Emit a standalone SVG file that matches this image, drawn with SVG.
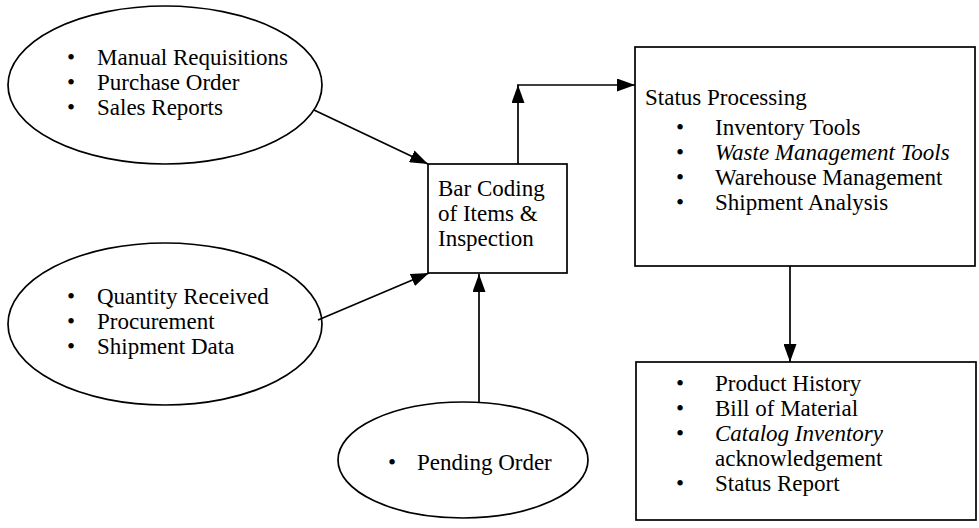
<svg xmlns="http://www.w3.org/2000/svg" width="979" height="528" viewBox="0 0 979 528">
  <style>
    .shape { fill: #ffffff; stroke: #000000; stroke-width: 1.7; }
    .label { font-family: "Liberation Serif", "Times New Roman", serif; font-size: 23px; fill: #000000; }
    .it { font-style: italic; }
    .wire { fill: none; stroke: #000000; stroke-width: 1.7; }
  </style>
  <defs>
    <marker id="head" markerUnits="userSpaceOnUse" markerWidth="18" markerHeight="13" refX="18" refY="6.5" orient="auto">
      <path d="M0,0 L18,6.5 L0,13 Z" fill="#000000"/>
    </marker>
  </defs>

  <rect width="979" height="528" fill="#ffffff"/>

  <!-- source documents -->
  <g id="requisitions">
    <ellipse class="shape" cx="165" cy="85" rx="157" ry="79"/>
    <text class="label" x="67" y="65">•</text>
    <text class="label" x="97" y="65">Manual Requisitions</text>
    <text class="label" x="67" y="90">•</text>
    <text class="label" x="97" y="90">Purchase Order</text>
    <text class="label" x="67" y="115">•</text>
    <text class="label" x="97" y="115">Sales Reports</text>
  </g>

  <g id="receiving">
    <ellipse class="shape" cx="165" cy="324" rx="157" ry="81"/>
    <text class="label" x="67" y="304">•</text>
    <text class="label" x="97" y="304">Quantity Received</text>
    <text class="label" x="67" y="329">•</text>
    <text class="label" x="97" y="329">Procurement</text>
    <text class="label" x="67" y="354">•</text>
    <text class="label" x="97" y="354">Shipment Data</text>
  </g>

  <g id="pending">
    <ellipse class="shape" cx="463" cy="460" rx="125" ry="58"/>
    <text class="label" x="388" y="470">•</text>
    <text class="label" x="417" y="470">Pending Order</text>
  </g>

  <!-- processing stages -->
  <g id="barcoding">
    <rect class="shape" x="428" y="164" width="139" height="109"/>
    <text class="label" x="438" y="196">Bar Coding</text>
    <text class="label" x="438" y="221">of Items &amp;</text>
    <text class="label" x="438" y="246">Inspection</text>
  </g>

  <g id="status">
    <rect class="shape" x="635" y="47" width="340" height="219"/>
    <text class="label" x="645" y="105">Status Processing</text>
    <text class="label" x="676" y="135">•</text>
    <text class="label" x="715" y="135">Inventory Tools</text>
    <text class="label" x="676" y="160">•</text>
    <text class="label it" x="715" y="160">Waste Management Tools</text>
    <text class="label" x="676" y="185">•</text>
    <text class="label" x="715" y="185">Warehouse Management</text>
    <text class="label" x="676" y="210">•</text>
    <text class="label" x="715" y="210">Shipment Analysis</text>
  </g>

  <g id="reports">
    <rect class="shape" x="636" y="362" width="340" height="158"/>
    <text class="label" x="676" y="391">•</text>
    <text class="label" x="715" y="391">Product History</text>
    <text class="label" x="676" y="416">•</text>
    <text class="label" x="715" y="416">Bill of Material</text>
    <text class="label" x="676" y="441">•</text>
    <text class="label it" x="715" y="441">Catalog Inventory</text>
    <text class="label" x="715" y="466">acknowledgement</text>
    <text class="label" x="676" y="491">•</text>
    <text class="label" x="715" y="491">Status Report</text>
  </g>

  <!-- connectors -->
  <g id="connectors">
    <line class="wire" x1="314" y1="110" x2="428" y2="164" marker-end="url(#head)"/>
    <line class="wire" x1="318" y1="320" x2="429" y2="273" marker-end="url(#head)"/>
    <line class="wire" x1="479" y1="402" x2="479" y2="274" marker-end="url(#head)"/>
    <line class="wire" x1="518" y1="164" x2="518" y2="85" marker-end="url(#head)"/>
    <line class="wire" x1="517" y1="85" x2="635" y2="85" marker-end="url(#head)"/>
    <line class="wire" x1="790" y1="266" x2="790" y2="362" marker-end="url(#head)"/>
  </g>
</svg>
